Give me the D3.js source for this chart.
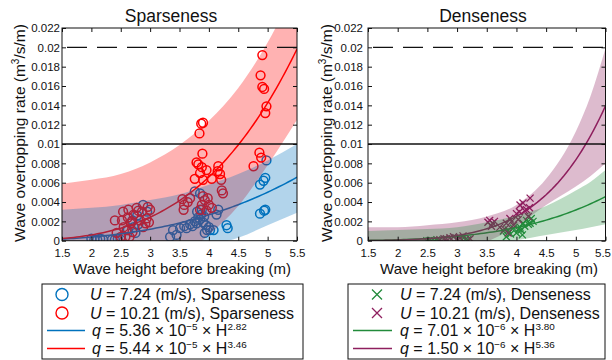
<!DOCTYPE html>
<html>
<head>
<meta charset="utf-8">
<script src="https://cdn.jsdelivr.net/npm/d3@7"></script>
<style>
  body { margin: 0; background: #fff; }
  svg { font-family: "Liberation Sans", Arial, sans-serif; }
</style>
</head>
<body>
<svg id="chart" width="612" height="360"></svg>
<script>
// ---- data ----
const X_TICKS = [1.5, 2, 2.5, 3, 3.5, 4, 4.5, 5, 5.5];
const X_LABELS = ['1.5', '2', '2.5', '3', '3.5', '4', '4.5', '5', '5.5'];
const Y_TICKS = [0, 0.002, 0.004, 0.006, 0.008, 0.01, 0.012, 0.014, 0.016, 0.018, 0.02, 0.022];
const Y_LABELS = ['0', '0.002', '0.004', '0.006', '0.008', '0.01', '0.012', '0.014', '0.016', '0.018', '0.02', '0.022'];
const WIND = ['7.24', '10.21'];

// fitted curves q = a * H^b (from legend)
const SPARSE_FIT_A = [5.36e-5, 5.44e-5];
const SPARSE_FIT_B = [2.82, 3.46];
const DENSE_FIT_A = [7.01e-6, 1.50e-6];
const DENSE_FIT_B = [3.80, 5.36];

// shaded bands (upper / lower edges)
const SPARSE_BAND_H = [1.5, 2, 2.5, 3, 3.5, 4, 4.5, 5, 5.5];
const BLUE_UPPER = [0.0032, 0.0034, 0.0037, 0.0042, 0.0048, 0.0058, 0.0069, 0.0083, 0.0100];
const BLUE_LOWER = [-0.0031, -0.0029, -0.0026, -0.0021, -0.0013, -0.0005, 0.0003, 0.0016, 0.0029];
const RED_UPPER = [0.0059, 0.0063, 0.0069, 0.0081, 0.0099, 0.0124, 0.0158, 0.0205, 0.0265];
const RED_LOWER = [-0.0056, -0.0055, -0.0048, -0.0037, -0.0018, 0.0006, 0.0036, 0.0078, 0.0125];

const DENSE_BAND_H = [1.5, 2, 2.5, 3, 3.5, 4, 4.5, 5, 5.25, 5.5];
const GREEN_UPPER = [0.0010, 0.0011, 0.0012, 0.0014, 0.0019, 0.0026, 0.0036, 0.0052, 0.0061, 0.0073];
const GREEN_LOWER = [-0.0010, -0.0009, -0.0008, -0.0005, -0.0003, 0.00005, 0.0006, 0.0011, 0.0014, 0.0017];
const PURPLE_UPPER = [0.0014, 0.0014, 0.0016, 0.0019, 0.0025, 0.0037, 0.0064, 0.0113, 0.0150, 0.0199];
const PURPLE_LOWER = [-0.0014, -0.0013, -0.0011, -0.0007, -0.0001, 0.0015, 0.0037, 0.0056, 0.0067, 0.0080];

// measured points [H (m), q (m3/s/m)]
const SPARSE_LOW = [
  [2.0, 0.0002], [2.05, 0.0001], [2.1, 0.0001], [2.15, 0.0002], [2.2, 0.0001],
  [2.35, 0.0001], [2.4, 0.0001], [2.45, 0.0002], [2.5, 0.0001],
  [2.62, 0.0011], [2.7, 0.0021], [2.72, 0.0014], [2.75, 0.0008], [2.78, 0.0026], [2.8, 0.0017],
  [2.88, 0.0037], [2.95, 0.0030],
  [3.34, 0.0004], [3.39, 0.0011], [3.45, 0.0006], [3.51, 0.0013], [3.58, 0.0015], [3.62, 0.0013],
  [3.68, 0.0017], [3.72, 0.0015], [3.76, 0.0020], [3.79, 0.0018], [3.82, 0.0024], [3.85, 0.0022],
  [3.87, 0.0027], [3.88, 0.0032], [3.9, 0.0019], [3.92, 0.0025], [3.93, 0.0008], [3.95, 0.0016],
  [3.97, 0.0011], [4.0, 0.0014], [4.02, 0.0011], [4.08, 0.0011], [4.13, 0.0027], [4.16, 0.0032],
  [3.76, 0.0051], [3.85, 0.0049], [3.8, 0.0030],
  [4.3, 0.0016], [4.32, 0.0013],
  [4.87, 0.0028], [4.94, 0.0031], [4.96, 0.0032], [4.87, 0.0058], [4.93, 0.0062], [4.96, 0.0065], [4.98, 0.0083]
];
const SPARSE_HIGH = [
  [2.4, 0.0021], [2.43, 0.0008], [2.5, 0.0004], [2.52, 0.0021], [2.54, 0.0030], [2.55, 0.0014],
  [2.58, 0.0004], [2.6, 0.0011], [2.62, 0.0024], [2.63, 0.0032], [2.65, 0.0004], [2.67, 0.0018],
  [2.69, 0.0020], [2.7, 0.0009], [2.72, 0.0027], [2.77, 0.0034], [2.8, 0.0031], [2.83, 0.0021],
  [2.86, 0.0030], [2.88, 0.0014], [2.92, 0.0018], [2.94, 0.0023], [2.96, 0.0035], [3.0, 0.0032], [2.98, 0.0019],
  [3.55, 0.0043], [3.58, 0.0037], [3.57, 0.0032], [3.68, 0.0044], [3.64, 0.0040], [3.76, 0.0064],
  [3.79, 0.0081], [3.82, 0.0079], [3.85, 0.0070], [3.88, 0.0076], [3.89, 0.0090], [3.9, 0.0063],
  [3.96, 0.0073], [4.05, 0.0064], [3.9, 0.0046], [3.93, 0.0042], [3.98, 0.0044], [3.88, 0.0037],
  [4.0, 0.0037], [4.05, 0.0034], [3.85, 0.0032], [3.96, 0.0031], [4.16, 0.0077], [4.15, 0.0072],
  [4.19, 0.0069], [4.21, 0.0063], [4.22, 0.0052], [4.24, 0.0049], [3.84, 0.0111], [3.87, 0.0121], [3.9, 0.0122],
  [4.76, 0.0077], [4.86, 0.0091], [4.89, 0.0086], [4.91, 0.0192], [4.88, 0.0171], [4.91, 0.0159],
  [4.94, 0.0157], [4.98, 0.0139], [4.96, 0.0132]
];
const DENSE_LOW = [
  [2.49, 0], [2.53, 0], [2.57, 0], [2.62, 0], [2.66, 0.0001], [2.7, 0], [3.08, 0.0001], [3.14, 0.0001], [3.18, 0.0001],
  [3.78, 0.0010], [3.83, 0.0004], [3.86, 0.0011], [3.9, 0.0007], [3.95, 0.0013], [4.0, 0.0008],
  [4.04, 0.0012], [4.06, 0.0014], [4.08, 0.0011], [4.11, 0.0018], [4.14, 0.0015], [4.17, 0.0021],
  [4.2, 0.0017], [4.23, 0.0018], [4.25, 0.0023], [4.28, 0.0020], [4.1, 0.0006]
];
const DENSE_HIGH = [
  [2.71, 0.0001], [2.78, 0.0002], [2.82, 0.0002], [2.88, 0.0003], [2.94, 0.0004], [3.0, 0.0002],
  [3.05, 0.0003], [3.1, 0.0005], [3.22, 0.0002],
  [3.52, 0.0019], [3.55, 0.0021], [3.58, 0.0015], [3.6, 0.0018], [3.63, 0.0020], [3.72, 0.0014],
  [3.8, 0.0012], [3.83, 0.0018], [3.86, 0.0008], [3.89, 0.0023], [3.92, 0.0020], [3.95, 0.0016],
  [4.0, 0.0028], [4.03, 0.0022], [4.06, 0.0037], [4.11, 0.0039], [4.14, 0.0031], [4.17, 0.0032],
  [4.2, 0.0025], [4.22, 0.0034], [4.23, 0.0044], [4.05, 0.0030]
];

const BLUE = '#0072BD', RED = '#FF0000', GREEN = '#228B3B', MAROON = '#8E1F5E';

const svg = d3.select('#chart');
const TOP = 28, BOTTOM = 240.7;

function richText(sel, parts, x, y, size) {
  const t = sel.append('text').attr('x', x).attr('y', y).attr('font-size', size).attr('fill', '#111');
  let raised = false;
  parts.forEach(p => {
    const s = t.append('tspan').text(p.t);
    if (p.i) s.attr('font-style', 'italic');
    if (p.sup) {
      s.attr('font-size', size * 0.62);
      if (!raised) { s.attr('dy', -6); raised = true; }
    } else if (raised) { s.attr('dy', 6); raised = false; }
  });
  return t;
}

function sciParts(a, b) {
  const e = Math.floor(Math.log10(a));
  const m = (a / Math.pow(10, e)).toFixed(2);
  return [{ t: 'q', i: true }, { t: ' = ' + m + ' × 10' }, { t: '−' + Math.abs(e), sup: true },
          { t: ' × H' }, { t: b.toFixed(2), sup: true }];
}

function drawPanel(cfg) {
  const x = d3.scaleLinear().domain([1.5, 5.5]).range([cfg.left, cfg.right]);
  const y = d3.scaleLinear().domain([0, 0.022]).range([BOTTOM, TOP]);
  const g = svg.append('g');

  g.append('clipPath').attr('id', cfg.id + '-clip')
    .append('rect').attr('x', cfg.left).attr('y', TOP)
    .attr('width', cfg.right - cfg.left).attr('height', BOTTOM - TOP);
  const plot = g.append('g').attr('clip-path', `url(#${cfg.id}-clip)`);

  // markers
  cfg.series.forEach(s => {
    const m = plot.append('g');
    if (s.marker === 'circle') {
      m.selectAll('circle').data(s.points).join('circle')
        .attr('cx', d => x(d[0])).attr('cy', d => y(d[1])).attr('r', 4.4)
        .attr('fill', 'none').attr('stroke', s.color).attr('stroke-width', 1.5);
    } else {
      m.selectAll('path').data(s.points).join('path')
        .attr('transform', d => `translate(${x(d[0])},${y(d[1])})`)
        .attr('d', 'M-3.5,-3.5L3.5,3.5M-3.5,3.5L3.5,-3.5')
        .attr('stroke', s.color).attr('stroke-width', 1.3);
    }
  });

  // fitted curves
  const hs = d3.range(1.5, 5.5001, 0.05);
  cfg.series.forEach(s => {
    plot.append('path')
      .attr('d', d3.line().x(h => x(h)).y(h => y(s.a * Math.pow(h, s.b)))(hs))
      .attr('fill', 'none').attr('stroke', s.color).attr('stroke-width', 1.5);
  });

  // bands on top, semi-transparent
  cfg.series.slice().reverse().forEach(s => {
    const area = d3.area().curve(d3.curveMonotoneX)
      .x((h) => x(h)).y0((h, i) => y(s.lower[i])).y1((h, i) => y(s.upper[i]));
    plot.append('path').attr('d', area(cfg.bandH))
      .attr('fill', s.color).attr('fill-opacity', 0.3);
  });

  // reference lines
  g.append('line').attr('x1', cfg.left).attr('x2', cfg.right)
    .attr('y1', y(0.02)).attr('y2', y(0.02))
    .attr('stroke', '#111').attr('stroke-width', 1.3)
    .attr('stroke-dasharray', '20,10').attr('stroke-dashoffset', 25);
  g.append('line').attr('x1', cfg.left).attr('x2', cfg.right)
    .attr('y1', y(0.01)).attr('y2', y(0.01))
    .attr('stroke', '#111').attr('stroke-width', 1.5);

  // axes with inward ticks
  const ax = g.append('g').attr('transform', `translate(0,${BOTTOM})`)
    .call(d3.axisBottom(x).tickValues(X_TICKS).tickFormat((d, i) => X_LABELS[i])
      .tickSizeInner(-4).tickSizeOuter(0).tickPadding(8));
  const ay = g.append('g').attr('transform', `translate(${cfg.left},0)`)
    .call(d3.axisLeft(y).tickValues(Y_TICKS).tickFormat((d, i) => Y_LABELS[i])
      .tickSizeInner(-4).tickSizeOuter(0).tickPadding(cfg.yPad));
  const at = g.append('g').attr('transform', `translate(0,${TOP})`)
    .call(d3.axisTop(x).tickValues(X_TICKS).tickFormat('').tickSizeInner(-4).tickSizeOuter(0));
  const ar = g.append('g').attr('transform', `translate(${cfg.right},0)`)
    .call(d3.axisRight(y).tickValues(Y_TICKS).tickFormat('').tickSizeInner(-4).tickSizeOuter(0));
  [ax, ay, at, ar].forEach(a => {
    a.select('.domain').remove();
    a.selectAll('line').attr('stroke', '#111');
    a.selectAll('text').attr('font-size', 11.5).attr('fill', '#111')
      .attr('font-family', '"Liberation Sans", Arial, sans-serif');
  });
  // keep the last x label inside the page
  ax.selectAll('.tick text').filter((d, i) => i === X_TICKS.length - 1).attr('dx', cfg.lastShift);

  g.append('rect').attr('x', cfg.left).attr('y', TOP)
    .attr('width', cfg.right - cfg.left).attr('height', BOTTOM - TOP)
    .attr('fill', 'none').attr('stroke', '#111').attr('stroke-width', 1);

  // titles and labels
  g.append('text').attr('x', cfg.titleX).attr('y', 22).attr('text-anchor', 'middle')
    .attr('font-size', 17.5).attr('fill', '#111').text(cfg.title);
  g.append('text').attr('x', cfg.xLabelX).attr('y', 274).attr('text-anchor', 'middle')
    .attr('font-size', 15).attr('fill', '#111').text('Wave height before breaking (m)');
  const yl = g.append('text').attr('text-anchor', 'middle').attr('font-size', 15.5).attr('fill', '#111')
    .attr('transform', `translate(${cfg.yLabelX},133) rotate(-90)`);
  yl.append('tspan').text('Wave overtopping rate (m');
  yl.append('tspan').text('3').attr('font-size', 10).attr('dy', -6);
  yl.append('tspan').text('/s/m)').attr('dy', 6);

  // legend
  const L = cfg.legend;
  const lg = svg.append('g');
  lg.append('rect').attr('x', L.x0).attr('y', 284).attr('width', L.x1 - L.x0).attr('height', 75)
    .attr('fill', '#fff').attr('stroke', '#111').attr('stroke-width', 1);
  const base = [300, 318.5, 336, 354];
  cfg.series.forEach((s, i) => {
    const cy = base[i] - 5.5;
    if (s.marker === 'circle') {
      lg.append('circle').attr('cx', L.markX).attr('cy', cy).attr('r', 6)
        .attr('fill', 'none').attr('stroke', s.color).attr('stroke-width', 1.4);
    } else {
      lg.append('path').attr('transform', `translate(${L.markX},${cy})`)
        .attr('d', 'M-5,-5L5,5M-5,5L5,-5').attr('stroke', s.color).attr('stroke-width', 1.3);
    }
    richText(lg, [{ t: 'U', i: true }, { t: ' = ' + WIND[i] + ' (m/s), ' + cfg.title }], L.textX, base[i], 16);
  });
  cfg.series.forEach((s, i) => {
    const yy = base[i + 2] - 5.5;
    lg.append('line').attr('x1', L.lineX0).attr('x2', L.lineX1).attr('y1', yy).attr('y2', yy)
      .attr('stroke', s.color).attr('stroke-width', 1.5);
    richText(lg, sciParts(s.a, s.b), L.qTextX, base[i + 2], 16);
  });
}

drawPanel({
  id: 'sparse', title: 'Sparseness', left: 62, right: 297, titleX: 171, xLabelX: 182, yLabelX: 25, yPad: 2, lastShift: 0,
  bandH: SPARSE_BAND_H,
  series: [
    { points: SPARSE_LOW, color: BLUE, marker: 'circle', a: SPARSE_FIT_A[0], b: SPARSE_FIT_B[0], upper: BLUE_UPPER, lower: BLUE_LOWER },
    { points: SPARSE_HIGH, color: RED, marker: 'circle', a: SPARSE_FIT_A[1], b: SPARSE_FIT_B[1], upper: RED_UPPER, lower: RED_LOWER }
  ],
  legend: { x0: 42, x1: 303, markX: 62, lineX0: 47, lineX1: 85, textX: 90, qTextX: 92 }
});

drawPanel({
  id: 'dense', title: 'Denseness', left: 368, right: 605.5, titleX: 483, xLabelX: 489, yLabelX: 332, yPad: 5, lastShift: -3,
  bandH: DENSE_BAND_H,
  series: [
    { points: DENSE_LOW, color: GREEN, marker: 'cross', a: DENSE_FIT_A[0], b: DENSE_FIT_B[0], upper: GREEN_UPPER, lower: GREEN_LOWER },
    { points: DENSE_HIGH, color: MAROON, marker: 'cross', a: DENSE_FIT_A[1], b: DENSE_FIT_B[1], upper: PURPLE_UPPER, lower: PURPLE_LOWER }
  ],
  legend: { x0: 348, x1: 605, markX: 377, lineX0: 353, lineX1: 392, textX: 400, qTextX: 400 }
});
</script>
</body>
</html>
